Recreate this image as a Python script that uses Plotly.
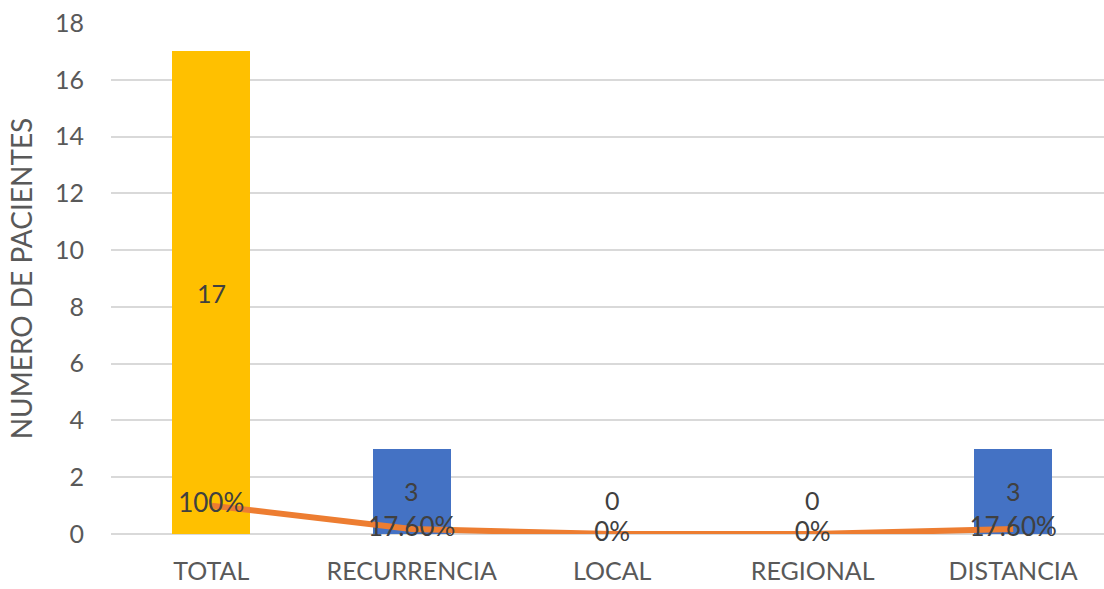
import plotly.graph_objects as go

categories = ["TOTAL", "RECURRENCIA", "LOCAL", "REGIONAL", "DISTANCIA"]
patients = [17, 3, 0, 0, 3]
bar_colors = ["#FFC000", "#4472C4", "#4472C4", "#4472C4", "#4472C4"]
share = [1.0, 0.176, 0.0, 0.0, 0.176]
share_labels = ["100%", "17.60%", "0%", "0%", "17.60%"]
y_ticks = [0, 2, 4, 6, 8, 10, 12, 14, 16, 18]

FONT = "Lato, Open Sans, sans-serif"
GREY = "#595959"

fig = go.Figure()
fig.add_trace(go.Bar(
    x=categories, y=patients, marker_color=bar_colors, marker_line_width=0,
    width=0.39, showlegend=False, hoverinfo="skip",
))
fig.add_trace(go.Scatter(
    x=categories, y=share, mode="lines+text", text=share_labels,
    textposition="middle center",
    textfont=dict(family=FONT, size=26, color="#404040"),
    line=dict(color="#ED7D31", width=6), cliponaxis=False, showlegend=False,
    hoverinfo="skip",
))
for c, v in zip(categories, patients):
    fig.add_annotation(
        x=c, y=v / 2, text=str(v), showarrow=False,
        yshift=34 if v == 0 else 0,
        font=dict(family=FONT, size=25, color="#404040"),
    )

fig.update_layout(
    width=1104, height=589,
    margin=dict(l=111, r=0, t=23, b=55),
    paper_bgcolor="white", plot_bgcolor="white",
    font=dict(family=FONT, color=GREY),
    bargap=0,
)
fig.update_xaxes(
    range=[-0.5, 4.453], showgrid=False, zeroline=False, showline=False,
    tickfont=dict(family=FONT, size=25, color=GREY), ticklabelstandoff=20,
)
fig.update_yaxes(
    range=[0, 18], tickvals=y_ticks, showgrid=True, gridcolor="#D9D9D9",
    gridwidth=1.5, zeroline=True, zerolinecolor="#D9D9D9", zerolinewidth=1.5,
    showline=False, tickfont=dict(family=FONT, size=25, color=GREY),
    ticklabelstandoff=26,
    title=dict(text="NUMERO DE PACIENTES", font=dict(family=FONT, size=28, color=GREY),
               standoff=14),
)

fig.write_html("out.html")
